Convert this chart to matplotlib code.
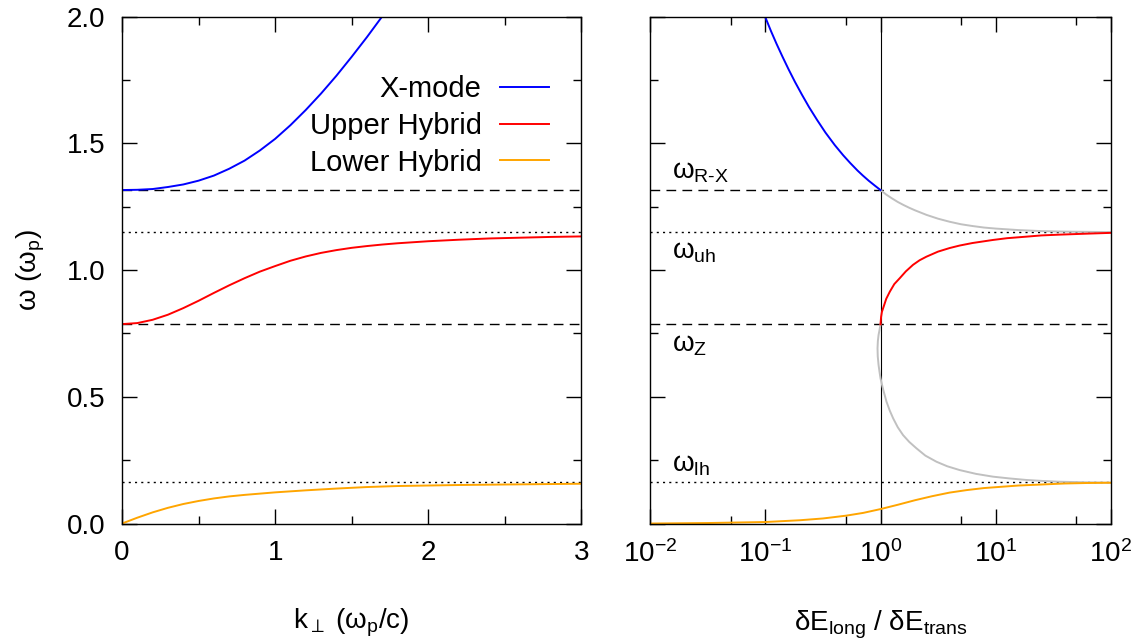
import matplotlib
matplotlib.use('Agg')
import matplotlib.pyplot as plt
import numpy as np
from matplotlib.ticker import MultipleLocator, LogLocator, NullFormatter, FormatStrFormatter

plt.rcParams['font.family'] = ['Liberation Sans', 'DejaVu Sans']
plt.rcParams['mathtext.fontset'] = 'custom'
plt.rcParams['mathtext.rm'] = 'Liberation Sans'
plt.rcParams['mathtext.it'] = 'Liberation Sans'
plt.rcParams['mathtext.default'] = 'regular'

# characteristic frequencies (units of omega_p)
w_rx = 1.316
w_uh = 1.150
w_z = 0.786
w_lh = 0.163

# left panel: omega vs k_perp
k_x = [0, 0.1, 0.2, 0.3, 0.4, 0.5, 0.6, 0.7, 0.8, 0.9, 1.0, 1.1, 1.2, 1.3, 1.4, 1.5, 1.6, 1.7]
w_x = [1.316, 1.317, 1.320, 1.328, 1.338, 1.353, 1.373, 1.400, 1.432, 1.472, 1.518, 1.572,
       1.632, 1.697, 1.767, 1.842, 1.920, 2.002]

k_uh = [0, 0.1, 0.2, 0.3, 0.4, 0.5, 0.6, 0.7, 0.8, 0.9, 1.0, 1.1, 1.2, 1.3, 1.4, 1.5, 1.6,
        1.7, 1.8, 1.9, 2.0, 2.2, 2.4, 2.6, 2.8, 3.0]
w_uhb = [0.787, 0.791, 0.804, 0.824, 0.850, 0.879, 0.910, 0.940, 0.968, 0.994, 1.016, 1.037,
         1.054, 1.068, 1.079, 1.088, 1.095, 1.101, 1.106, 1.110, 1.114, 1.120, 1.125, 1.128,
         1.131, 1.133]

k_lh = [0, 0.1, 0.2, 0.3, 0.4, 0.5, 0.6, 0.7, 0.8, 0.9, 1.0, 1.2, 1.4, 1.6, 1.8, 2.0, 2.2, 2.5, 3.0]
w_lhb = [0.0, 0.023, 0.044, 0.062, 0.077, 0.089, 0.099, 0.107, 0.113, 0.118, 0.123, 0.131,
         0.138, 0.144, 0.148, 0.150, 0.152, 0.154, 0.157]

# right panel: omega vs log10(dE_long / dE_trans)
lr_x = [-1.006, -0.952, -0.904, -0.853, -0.800, -0.744, -0.684, -0.621, -0.552, -0.479,
        -0.397, -0.324, -0.264, -0.200, -0.153, -0.103, -0.048, 0.0]
wr_x = [2.003, 1.943, 1.893, 1.843, 1.793, 1.743, 1.693, 1.643, 1.593, 1.543, 1.493, 1.453,
        1.423, 1.393, 1.373, 1.353, 1.333, 1.316]

lr_g1 = [0.0, 0.05, 0.1, 0.15, 0.2, 0.25, 0.3, 0.35, 0.4, 0.5, 0.6, 0.7, 0.8, 0.9, 1.0, 1.1,
         1.2, 1.4, 1.6, 1.8, 2.0]
wr_g1 = [1.316, 1.298, 1.283, 1.269, 1.257, 1.246, 1.236, 1.227, 1.218, 1.203, 1.191, 1.181,
         1.174, 1.168, 1.164, 1.161, 1.158, 1.154, 1.152, 1.151, 1.150]

lr_uh = [0.0, 0.005, 0.012, 0.023, 0.05, 0.081, 0.12, 0.167, 0.22, 0.283, 0.34, 0.399, 0.5,
         0.6, 0.688, 0.8, 0.977, 1.1, 1.266, 1.4, 1.555, 1.8, 2.0]
wr_uh = [0.786, 0.815, 0.835, 0.850, 0.887, 0.915, 0.945, 0.968, 0.995, 1.021, 1.039, 1.053,
         1.073, 1.087, 1.097, 1.107, 1.119, 1.126, 1.132, 1.137, 1.140, 1.144, 1.147]

lr_g2 = [0.0, -0.008, -0.017, -0.023, -0.026, -0.024, -0.017, -0.009, 0.0, 0.024, 0.052, 0.08,
         0.11, 0.15, 0.196, 0.25, 0.312, 0.39, 0.486, 0.58, 0.688, 0.83, 0.977, 1.12, 1.266,
         1.41, 1.555, 1.75, 2.0]
wr_g2 = [0.786, 0.765, 0.744, 0.720, 0.692, 0.660, 0.626, 0.600, 0.573, 0.527, 0.481, 0.446,
         0.415, 0.380, 0.349, 0.322, 0.297, 0.268, 0.244, 0.226, 0.211, 0.196, 0.185, 0.178,
         0.172, 0.168, 0.165, 0.163, 0.161]

lr_lh = [-2.0, -1.5, -1.0, -0.7, -0.5, -0.3, -0.15, 0.0, 0.15, 0.3, 0.45, 0.6, 0.75, 0.9,
         1.05, 1.2, 1.4, 1.6, 1.8, 2.0]
wr_lh = [0.0, 0.002, 0.006, 0.013, 0.020, 0.031, 0.042, 0.057, 0.074, 0.092, 0.108, 0.122,
         0.132, 0.140, 0.145, 0.150, 0.154, 0.158, 0.160, 0.161]

blue = '#0000ff'
red = '#ff0000'
orange = '#ffa500'
grey = '#c0c0c0'
lw = 1.4
fs = 20

fig = plt.figure(figsize=(11.41, 6.43), dpi=100)
ax1 = fig.add_axes([0.1069, 0.1858, 0.4027, 0.7882])
ax2 = fig.add_axes([0.5701, 0.1858, 0.4032, 0.7882])

for ax in (ax1, ax2):
    ax.axhline(w_rx, color='black', lw=1.0, dashes=(7, 4.5))
    ax.axhline(w_z, color='black', lw=1.0, dashes=(7, 4.5))
    ax.axhline(w_uh, color='black', lw=1.0, dashes=(1.5, 3))
    ax.axhline(w_lh, color='black', lw=1.0, dashes=(1.5, 3))

ax1.plot(k_x, w_x, color=blue, lw=lw, label='X-mode')
ax1.plot(k_uh, w_uhb, color=red, lw=lw, label='Upper Hybrid')
ax1.plot(k_lh, w_lhb, color=orange, lw=lw, label='Lower Hybrid')

ax2.axvline(1.0, color='black', lw=0.8)
ax2.plot(10 ** np.array(lr_g1), wr_g1, color=grey, lw=lw)
ax2.plot(10 ** np.array(lr_g2), wr_g2, color=grey, lw=lw)
ax2.plot(10 ** np.array(lr_x), wr_x, color=blue, lw=lw)
ax2.plot(10 ** np.array(lr_uh), wr_uh, color=red, lw=lw)
ax2.plot(10 ** np.array(lr_lh), wr_lh, color=orange, lw=lw)

ax1.set_xlim(0, 3)
ax1.set_ylim(0, 2)
ax1.xaxis.set_major_locator(MultipleLocator(1))
ax1.xaxis.set_minor_locator(MultipleLocator(0.5))
ax1.yaxis.set_major_locator(MultipleLocator(0.5))
ax1.yaxis.set_minor_locator(MultipleLocator(0.25))
ax1.yaxis.set_major_formatter(FormatStrFormatter('%.1f'))

ax2.set_xscale('log')
ax2.set_xlim(1e-2, 1e2)
ax2.set_ylim(0, 2)
ax2.xaxis.set_major_locator(LogLocator(base=10, numticks=10))
ax2.xaxis.set_minor_locator(LogLocator(base=10, subs=[5.0], numticks=10))
ax2.xaxis.set_minor_formatter(NullFormatter())
ax2.yaxis.set_major_locator(MultipleLocator(0.5))
ax2.yaxis.set_minor_locator(MultipleLocator(0.25))
ax2.tick_params(axis='y', which='both', labelleft=False)

for ax in (ax1, ax2):
    for s in ax.spines.values():
        s.set_linewidth(1.0)
    ax.tick_params(which='both', direction='in', top=True, right=True, width=1.0,
                   labelsize=fs, pad=12)
    ax.tick_params(which='major', length=11)
    ax.tick_params(which='minor', length=6)

ax1.set_ylabel('ω (ω$_\\mathrm{p}$)', fontsize=fs, labelpad=14)
ax1.set_xlabel('k$_\\perp$ (ω$_\\mathrm{p}$/c)', fontsize=fs, labelpad=29)
ax2.set_xlabel('δE$_\\mathrm{long}$ / δE$_\\mathrm{trans}$', fontsize=fs, labelpad=29)

ax2.text(0.0155, 1.362, 'ω$_\\text{R-X}$', fontsize=fs, va='baseline')
ax2.text(0.0155, 1.045, 'ω$_\\mathrm{uh}$', fontsize=fs, va='baseline')
ax2.text(0.0155, 0.680, 'ω$_\\mathrm{Z}$', fontsize=fs, va='baseline')
ax2.text(0.0155, 0.207, 'ω$_\\mathrm{lh}$', fontsize=fs, va='baseline')

ax1.legend(loc='upper right', bbox_to_anchor=(0.93, 0.885), frameon=False, markerfirst=False,
           fontsize=21, handlelength=1.7, handletextpad=0.62, labelspacing=0.3, borderpad=0,
           borderaxespad=0)

fig.savefig('out.png', dpi=100)
